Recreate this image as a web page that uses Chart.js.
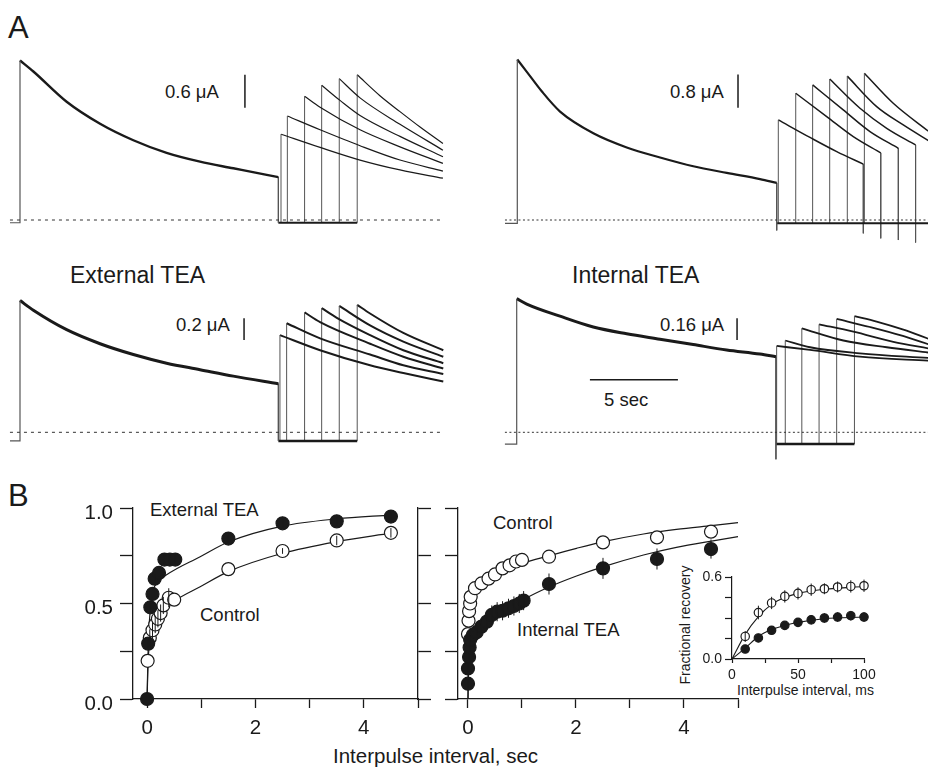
<!DOCTYPE html>
<html>
<head>
<meta charset="utf-8">
<script src="https://cdn.jsdelivr.net/npm/chart.js@4.4.1/dist/chart.umd.min.js"></script>
<style>
  body { margin: 0; background: #fff; }
  #fig { position: relative; width: 928px; height: 771px; overflow: hidden; background: #fff;
         font-family: "Liberation Sans", Arial, sans-serif; color: #1a1a1a; }
  #fig canvas { position: absolute; }
  .lbl { position: absolute; line-height: 1; white-space: nowrap; }
</style>
</head>
<body>
<div id="fig">
  <div class="lbl" style="left:8px;top:12px;font-size:31px">A</div>
  <div class="lbl" style="left:165px;top:83px;font-size:18.5px">0.6 μA</div>
  <div class="lbl" style="left:670px;top:83px;font-size:18.5px">0.8 μA</div>
  <div class="lbl" style="left:70px;top:264px;font-size:23px">External TEA</div>
  <div class="lbl" style="left:572px;top:264px;font-size:23px">Internal TEA</div>
  <div class="lbl" style="left:176px;top:316px;font-size:18.5px">0.2 μA</div>
  <div class="lbl" style="left:660px;top:316px;font-size:18.5px">0.16 μA</div>
  <div class="lbl" style="left:604px;top:391px;font-size:18.5px">5 sec</div>
  <div class="lbl" style="left:8px;top:480px;font-size:31px">B</div>
  <div class="lbl" style="left:150px;top:501px;font-size:18.5px">External TEA</div>
  <div class="lbl" style="left:200px;top:606px;font-size:18.5px">Control</div>
  <div class="lbl" style="left:493px;top:514px;font-size:18.5px">Control</div>
  <div class="lbl" style="left:517px;top:621px;font-size:18.5px">Internal TEA</div>
  <div class="lbl" style="left:333px;top:746px;font-size:20.5px">Interpulse interval, sec</div>
  <div class="lbl" style="left:737px;top:683px;font-size:14px">Interpulse interval, ms</div>
  <div class="lbl" style="left:685px;top:625px;font-size:14px;transform:translate(-50%,-50%) rotate(-90deg)">Fractional recovery</div>
</div>
<script>
Chart.defaults.font.family = '"Liberation Sans", Arial, sans-serif';
Chart.defaults.color = '#1a1a1a';
Chart.defaults.animation = false;
Chart.defaults.events = [];
Chart.defaults.plugins.legend.display = false;
Chart.defaults.plugins.tooltip.enabled = false;

// ---------- A: currents, [time (s) from prepulse onset, current (uA)] ----------
// control oocyte, external TEA series
const ctrlExtPre = [[0, 2.90], [0.76, 2.70], [2.65, 2.15], [4.55, 1.75], [6.44, 1.45], [8.33, 1.22], [10.23, 1.06], [12.12, 0.94], [14.02, 0.82], [14.68, 0.78]];
const ctrlExtTests = [
  [[14.83, 1.56], [17.05, 1.32], [19.32, 1.09], [21.59, 0.91], [24.03, 0.76]],
  [[15.19, 1.89], [17.05, 1.64], [19.32, 1.35], [21.59, 1.09], [24.03, 0.89]],
  [[16.17, 2.25], [17.05, 2.05], [19.32, 1.64], [21.59, 1.33], [24.03, 1.03]],
  [[17.14, 2.45], [18.2, 2.17], [19.32, 1.90], [21.59, 1.52], [24.03, 1.15]],
  [[18.14, 2.57], [19.32, 2.22], [21.59, 1.74], [24.03, 1.27]],
  [[19.16, 2.64], [20.45, 2.26], [21.59, 1.97], [22.73, 1.69], [24.03, 1.39]]
];
const ctrlExtBase = -0.05;

// control oocyte, internal TEA series
const ctrlIntPre = [[0, 3.85], [0.53, 3.56], [1.4, 3.08], [2.43, 2.60], [4.32, 2.08], [6.22, 1.74], [8.11, 1.50], [10.0, 1.29], [11.9, 1.13], [13.79, 0.98], [14.74, 0.89]];
const ctrlIntTests = [
  [[14.83, 2.40], [16.63, 1.98], [18.15, 1.64], [19.66, 1.34]],
  [[15.82, 3.04], [17.58, 2.48], [19.09, 2.00], [20.65, 1.61]],
  [[16.78, 3.24], [18.52, 2.64], [20.04, 2.12], [21.65, 1.72]],
  [[17.75, 3.38], [19.47, 2.68], [20.99, 2.20], [22.63, 1.80]],
  [[18.75, 3.45], [20.42, 2.72], [21.93, 2.28], [23.45, 1.88]],
  [[19.72, 3.52], [21.36, 2.80], [23.45, 2.10]]
];
const ctrlIntBase = -0.08;
const ctrlIntPreTail = -0.25;
const ctrlIntTails = [-0.32, -0.44, -0.48, -0.54, null, null];

// external TEA
const extPre = [[0, 1.22], [0.76, 1.13], [2.65, 0.95], [4.55, 0.82], [6.44, 0.72], [8.33, 0.64], [10.23, 0.58], [12.12, 0.52], [14.68, 0.45]];
const extTests = [
  [[14.77, 0.90], [17.05, 0.76], [19.89, 0.62], [21.78, 0.55], [24.05, 0.47]],
  [[15.15, 1.01], [17.05, 0.87], [19.89, 0.72], [21.78, 0.62], [24.05, 0.54]],
  [[16.17, 1.11], [17.05, 1.02], [19.89, 0.82], [21.78, 0.70], [24.05, 0.59]],
  [[17.14, 1.15], [18.0, 1.06], [19.89, 0.90], [21.78, 0.76], [24.05, 0.64]],
  [[18.14, 1.17], [19.89, 0.99], [21.78, 0.84], [24.05, 0.70]],
  [[19.16, 1.18], [19.89, 1.10], [21.78, 0.92], [24.05, 0.76]]
];
const extBase = -0.08;

// internal TEA
const intPre = [[0, 0.99], [0.57, 0.95], [2.46, 0.86], [4.35, 0.78], [6.25, 0.73], [8.14, 0.69], [10.03, 0.65], [11.93, 0.61], [13.82, 0.58], [14.73, 0.56]];
const intTests = [
  [[14.77, 0.64], [16.67, 0.61], [19.5, 0.56], [23.45, 0.53]],
  [[15.26, 0.68], [16.67, 0.63], [19.5, 0.585], [23.45, 0.55]],
  [[16.2, 0.77], [18.56, 0.68], [21.02, 0.63], [23.45, 0.59]],
  [[17.18, 0.80], [19.13, 0.745], [21.4, 0.67], [23.45, 0.62]],
  [[18.18, 0.84], [20.07, 0.78], [21.78, 0.72], [23.45, 0.65]],
  [[19.19, 0.86], [20.45, 0.82], [21.97, 0.76], [23.45, 0.69]]
];
const intBase = -0.087;
const intPreTail = -0.2;

const barSizes = [0.6, 0.8, 0.2, 0.16]; // uA
const timeBarSize = 5; // s

// ---------- B: fractional recovery vs interpulse interval (s) ----------
const ctrlExtX = [0.01, 0.05, 0.1, 0.15, 0.2, 0.25, 0.3, 0.4, 0.5, 1.5, 2.5, 3.5, 4.5];
const ctrlExtY = [0.20, 0.32, 0.36, 0.39, 0.42, 0.45, 0.49, 0.53, 0.52, 0.68, 0.775, 0.83, 0.87];
const ctrlExtErr = [0, 0.045, 0.045, 0.045, 0.045, 0.045, 0.045, 0.05, 0, 0, 0.015, 0.025, 0.025];
const extX = [0, 0.02, 0.06, 0.1, 0.14, 0.22, 0.32, 0.42, 0.52, 1.5, 2.5, 3.5, 4.5];
const extY = [0.0, 0.29, 0.48, 0.55, 0.63, 0.66, 0.73, 0.73, 0.73, 0.84, 0.92, 0.93, 0.955];
const extErr = [0, 0.02, 0.02, 0.02, 0.02, 0.02, 0.02, 0.02, 0.02, 0.02, 0.02, 0.02, 0.02];
const extFit = [[0, 0], [0.02, 0.27], [0.08, 0.52], [0.18, 0.606], [0.36, 0.65], [0.98, 0.745], [1.5, 0.822], [2.5, 0.905], [3.5, 0.943], [4.5, 0.963]];
const ctrlExtFit = [[0, 0], [0.02, 0.2], [0.08, 0.33], [0.18, 0.414], [0.36, 0.475], [0.49, 0.51], [0.98, 0.588], [1.5, 0.667], [2.5, 0.763], [3.5, 0.824], [4.5, 0.868]];

const ctrlIntX = [0.0, 0.01, 0.02, 0.04, 0.05, 0.13, 0.25, 0.38, 0.5, 0.64, 0.77, 0.89, 1.0, 1.5, 2.5, 3.5, 4.5];
const ctrlIntY = [0.34, 0.41, 0.46, 0.5, 0.535, 0.58, 0.605, 0.63, 0.652, 0.684, 0.70, 0.72, 0.728, 0.745, 0.82, 0.846, 0.876];
const intX = [0.0, 0.0, 0.02, 0.03, 0.04, 0.09, 0.16, 0.25, 0.35, 0.44, 0.54, 0.64, 0.75, 0.85, 0.95, 1.03, 1.5, 2.5, 3.5, 4.5];
const intY = [0.08, 0.16, 0.22, 0.27, 0.31, 0.335, 0.35, 0.379, 0.405, 0.44, 0.457, 0.462, 0.475, 0.487, 0.5, 0.515, 0.602, 0.684, 0.733, 0.785];
const intErr = [0.02, 0.02, 0.02, 0.02, 0.02, 0.02, 0.02, 0.03, 0.04, 0.05, 0.05, 0.05, 0.05, 0.05, 0.05, 0.05, 0.055, 0.055, 0.055, 0.05];
const ctrlIntFit = [[0, 0], [0.01, 0.33], [0.06, 0.536], [0.16, 0.592], [0.47, 0.65], [1.01, 0.71], [1.49, 0.749], [2.01, 0.789], [2.51, 0.824], [3.25, 0.864], [3.86, 0.888], [4.51, 0.908], [5.0, 0.923]];
const intFit = [[0, 0], [0.01, 0.15], [0.03, 0.274], [0.09, 0.33], [0.27, 0.379], [0.52, 0.431], [1.01, 0.518], [1.49, 0.585], [2.01, 0.644], [2.51, 0.693], [3.25, 0.754], [3.86, 0.794], [4.51, 0.827], [5.0, 0.85]];

// inset, interval in ms
const insetX = [10, 20, 30, 40, 50, 60, 70, 80, 90, 100];
const insetCtrl = [0.165, 0.34, 0.41, 0.458, 0.48, 0.507, 0.514, 0.527, 0.531, 0.536];
const insetCtrlErr = [0.04, 0.05, 0.045, 0.045, 0.045, 0.045, 0.04, 0.04, 0.045, 0.045];
const insetInt = [0.073, 0.154, 0.21, 0.246, 0.268, 0.287, 0.30, 0.307, 0.317, 0.307];
const insetIntErr = [0.025, 0.03, 0.03, 0.03, 0.03, 0.035, 0.035, 0.035, 0.035, 0.035];
const insetCtrlFit = [[0, 0], [10, 0.18], [20, 0.31], [30, 0.40], [40, 0.45], [50, 0.48], [70, 0.51], [100, 0.53]];
const insetIntFit = [[0, 0], [10, 0.08], [20, 0.165], [30, 0.215], [40, 0.246], [50, 0.268], [70, 0.295], [100, 0.307]];

const INK = '#1a1a1a';
const THIN = '#555';

// draws vertical error bars for datasets that carry an errorBars array
const errorBarPlugin = {
  id: 'errorBars',
  afterDatasetsDraw(chart) {
    const ctx = chart.ctx;
    chart.data.datasets.forEach((ds, i) => {
      if (!ds.errorBars) return;
      const meta = chart.getDatasetMeta(i);
      const ys = chart.scales[meta.yAxisID];
      ctx.save();
      ctx.strokeStyle = INK;
      ctx.lineWidth = 1;
      meta.data.forEach((pt, j) => {
        const e = ds.errorBars[j];
        if (!e) return;
        const v = ds.data[j].y;
        ctx.beginPath();
        ctx.moveTo(pt.x, ys.getPixelForValue(v - e));
        ctx.lineTo(pt.x, ys.getPixelForValue(v + e));
        ctx.stroke();
      });
      ctx.restore();
    });
  }
};

function makeCanvas(id, left, top, w, h) {
  const c = document.createElement('canvas');
  c.id = id;
  c.width = w;
  c.height = h;
  c.style.left = left + 'px';
  c.style.top = top + 'px';
  document.getElementById('fig').appendChild(c);
  return c;
}

function seg(points, width, color, extra) {
  return Object.assign({
    data: points.map(p => ({ x: p[0], y: p[1] })),
    showLine: true, pointRadius: 0, borderColor: color, borderWidth: width, tension: 0
  }, extra || {});
}

// ---------- panel A ----------
const panelsA = [
  { id: 'aCtrlExt', left: 0, top: 40, w: 460, h: 210, onset: 20, zero: 220, pxS: 17.6, pxUA: 55,
    pre: ctrlExtPre, tests: ctrlExtTests, base: ctrlExtBase, from: -0.57, to: 23.86, dash: [3, 4],
    preW: 2.4, testW: 1.2, baseW: 2, bar: { t: 12.78, y: 2.04, size: barSizes[0] } },
  { id: 'aCtrlInt', left: 460, top: 40, w: 468, h: 210, onset: 517.3, zero: 220, pxS: 17.6, pxUA: 41.7,
    pre: ctrlIntPre, tests: ctrlIntTests, base: ctrlIntBase, preTail: ctrlIntPreTail, tails: ctrlIntTails,
    baseToEdge: true, from: -0.7, to: 23.5, dash: [2, 2.5],
    preW: 2.2, testW: 1.5, baseW: 2, bar: { t: 12.54, y: 2.69, size: barSizes[1] } },
  { id: 'aExt', left: 0, top: 285, w: 460, h: 170, onset: 20, zero: 432.3, pxS: 17.6, pxUA: 108,
    pre: extPre, tests: extTests, base: extBase, from: -0.57, to: 23.86, dash: [3, 4],
    preW: 3, testW: 2, baseW: 2.5, bar: { t: 12.73, y: 0.855, size: barSizes[2] } },
  { id: 'aInt', left: 460, top: 285, w: 468, h: 190, onset: 516.7, zero: 432.3, pxS: 17.6, pxUA: 135,
    pre: intPre, tests: intTests, base: intBase, preTail: intPreTail, from: -0.67, to: 23.5, dash: [2, 2.5],
    preW: 3, testW: 1.8, baseW: 2.5, bar: { t: 12.52, y: 0.684, size: barSizes[3] },
    time: { t: 4.16, y: 0.39, size: timeBarSize } }
];

function traceChart(p) {
  const ds = [];
  const first = p.pre[0];
  const last = p.pre[p.pre.length - 1];
  ds.push(seg([[p.from, 0], [p.to, 0]], 1, '#333', { borderDash: p.dash }));
  ds.push(seg([[p.from, p.base], [first[0], p.base], first], 1.2, THIN));
  ds.push(seg(p.pre, p.preW, INK, { cubicInterpolationMode: 'monotone' }));
  ds.push(seg([last, [last[0], p.preTail !== undefined ? p.preTail : p.base]], 1, THIN));
  const lastOnset = p.tests[p.tests.length - 1][0][0];
  ds.push(seg([[last[0], p.base], [p.baseToEdge ? p.to : lastOnset, p.base]], p.baseW, INK));
  p.tests.forEach((c, i) => {
    ds.push(seg([[c[0][0], p.base], c[0]], 1, THIN));
    ds.push(seg(c, p.testW, INK, { cubicInterpolationMode: 'monotone' }));
    if (p.tails && p.tails[i] != null) {
      const e = c[c.length - 1];
      ds.push(seg([e, [e[0], p.tails[i]]], 1, THIN));
    }
  });
  const b = p.bar;
  ds.push(seg([[b.t, b.y], [b.t, b.y + b.size]], 1.5, INK));
  if (p.time) {
    ds.push(seg([[p.time.t, p.time.y], [p.time.t + p.time.size, p.time.y]], 1.5, INK));
  }
  new Chart(makeCanvas(p.id, p.left, p.top, p.w, p.h), {
    type: 'scatter',
    data: { datasets: ds },
    options: {
      responsive: false,
      layout: { padding: 0 },
      scales: {
        x: { type: 'linear', display: false, min: (p.left - p.onset) / p.pxS, max: (p.left + p.w - p.onset) / p.pxS },
        y: { type: 'linear', display: false, min: (p.zero - p.top - p.h) / p.pxUA, max: (p.zero - p.top) / p.pxUA }
      }
    }
  });
}
panelsA.forEach(traceChart);

// ---------- panel B ----------
function fixedBox(size) {
  return s => {
    if (s.isHorizontal()) s.height = size; else s.width = size;
    s.paddingLeft = s.paddingRight = s.paddingTop = s.paddingBottom = 0;
  };
}

function axis(o) {
  const bw = o.bw || 1.3;
  return {
    type: 'linear', min: o.min, max: o.max, position: o.position,
    afterBuildTicks: s => { s.ticks = o.ticks.map(v => ({ value: v })); },
    afterFit: fixedBox(o.box),
    border: { display: true, color: INK, width: bw },
    grid: { display: true, drawOnChartArea: false, drawTicks: true, tickLength: o.tick, color: INK, tickColor: INK, tickWidth: bw },
    ticks: { autoSkip: false, maxRotation: 0, padding: o.pad || 0, labelOffset: o.shift || 0, color: INK,
             font: { size: o.font || 20 }, callback: o.label || (() => '') }
  };
}

function pts(xs, ys, errs, fill, r, order) {
  return {
    data: xs.map((x, i) => ({ x: x, y: ys[i] })), errorBars: errs,
    showLine: false, pointRadius: r, pointBackgroundColor: fill, pointBorderColor: INK,
    pointBorderWidth: 1.2, clip: false, order: order
  };
}

function fit(points, w) {
  return {
    data: points.map(p => ({ x: p[0], y: p[1] })), showLine: true, pointRadius: 0,
    borderColor: INK, borderWidth: w || 1.2, cubicInterpolationMode: 'monotone', clip: false, order: 3
  };
}

function recoveryChart(id, box, padding, scales, datasets) {
  new Chart(makeCanvas(id, box.left, box.top, box.w, box.h), {
    type: 'scatter',
    data: { datasets: datasets },
    options: { responsive: false, layout: { padding: padding }, scales: scales },
    plugins: [errorBarPlugin]
  });
}

const fracTicks = [0, 0.25, 0.5, 0.75, 1];
const secTicks = [0, 1, 2, 3, 4, 5];
const secLabel = v => (v % 2 === 0 ? String(v) : '');

recoveryChart('bExt', { left: 40, top: 490, w: 400, h: 250 }, { top: 18, right: 8, left: 0, bottom: 0 }, {
  x: axis({ min: -0.26, max: 5, position: 'bottom', ticks: secTicks, box: 41, tick: 9, pad: 8, font: 20.5, label: secLabel }),
  y: axis({ min: 0, max: 1, position: 'left', ticks: fracTicks, box: 93, tick: 13, pad: 7, font: 20.5, shift: 5,
            label: v => (v % 0.5 === 0 ? v.toFixed(1) : '') }),
  y2: axis({ min: 0, max: 1, position: 'right', ticks: fracTicks, box: 14, tick: 13 })
}, [
  pts(extX, extY, extErr, INK, 6.5, 0),
  pts(ctrlExtX, ctrlExtY, ctrlExtErr, '#fff', 6.5, 1),
  fit(extFit), fit(ctrlExtFit)
]);

recoveryChart('bInt', { left: 440, top: 490, w: 310, h: 250 }, { top: 18, right: 12, left: 0, bottom: 0 }, {
  x: axis({ min: -0.185, max: 5, position: 'bottom', ticks: secTicks, box: 41, tick: 9, pad: 8, font: 20.5, label: secLabel }),
  y: axis({ min: 0, max: 1, position: 'left', ticks: fracTicks, box: 18, tick: 13 })
}, [
  pts(intX, intY, intErr, INK, 6.5, 0),
  pts(ctrlIntX, ctrlIntY, null, '#fff', 6.5, 1),
  fit(intFit), fit(ctrlIntFit)
]);

recoveryChart('bInset', { left: 672, top: 562, w: 212, h: 128 }, { top: 15, right: 20, left: 0, bottom: 0 }, {
  x: axis({ min: 0, max: 100, position: 'bottom', ticks: [0, 25, 50, 75, 100], box: 31, tick: 4, pad: 4, font: 14, bw: 1.2,
            label: v => (v % 50 === 0 ? String(v) : '') }),
  y: axis({ min: 0, max: 0.6, position: 'left', ticks: [0, 0.15, 0.3, 0.45, 0.6], box: 60, tick: 7, pad: 3, font: 14, bw: 1.2,
            label: v => (v === 0 || v === 0.6 ? v.toFixed(1) : '') })
}, [
  pts(insetX, insetInt, insetIntErr, INK, 4.2, 0),
  pts(insetX, insetCtrl, insetCtrlErr, '#fff', 4.2, 1),
  fit(insetIntFit, 1.1), fit(insetCtrlFit, 1.1)
]);
</script>
</body>
</html>
